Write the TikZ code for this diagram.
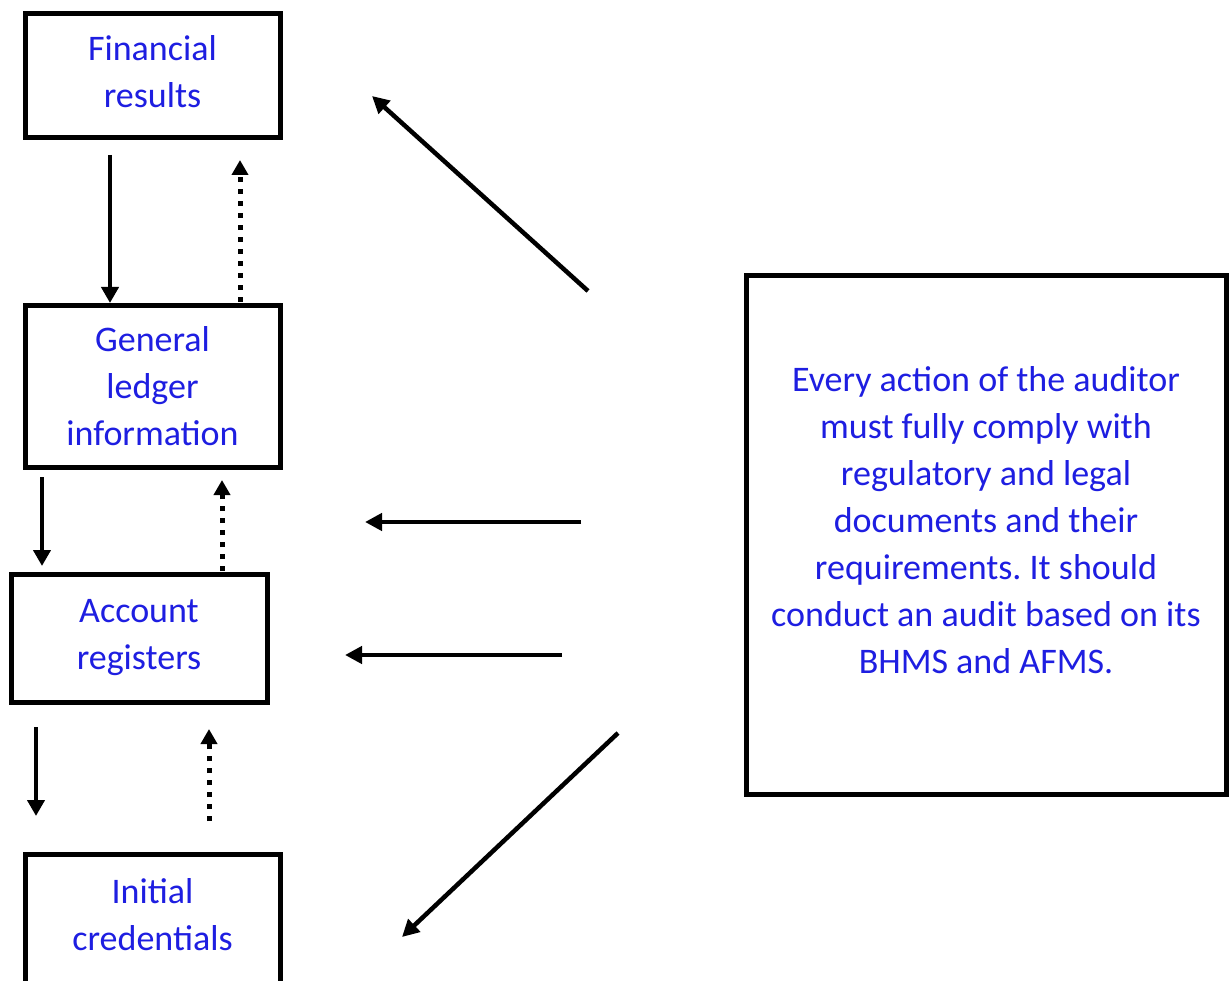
\documentclass[tikz,border=0pt]{standalone}
\usepackage{fontspec}
\setmainfont{Carlito}
\usepackage{tikz}
\usetikzlibrary{arrows.meta,positioning,calc}

\definecolor{labelblue}{RGB}{30,30,225}
\frenchspacing

\begin{document}
\begin{tikzpicture}[
  x=1pt, y=-1pt,
  every node/.style={font=\fontsize{36}{47}\selectfont, text=labelblue},
  levelbox/.style={rectangle, draw=black, line width=5pt, fill=white,
    minimum width=255pt, align=center, inner sep=0pt},
  rulebox/.style={rectangle, draw=black, line width=5pt,
    minimum width=480pt, minimum height=518pt},
  downarrow/.style={line width=4.5pt, -{Triangle[length=16pt,width=17pt]}},
  uparrow/.style={line width=5pt, dash pattern=on 5pt off 7pt,
    -{Triangle[length=15pt,width=16pt]}},
  influence/.style={line width=4.5pt, -{Triangle[length=17pt,width=17pt]}}
]
\useasboundingbox (0,0) rectangle (1229,981);
\clip (0,0) rectangle (1229,981);
\fill[white] (0,0) rectangle (1229,981);

% levels of the accounting chain
\node[levelbox, minimum height=124pt, text depth=8pt] (fin) at (152.5,76) {Financial\\results};
\node[levelbox, minimum height=161pt] (gen) at (152.5,386.5) {General\\ledger\\information};
\node[levelbox, minimum width=256pt, minimum height=128pt] (acc) at (139,638) {Account\\registers};
\node[levelbox, minimum height=132pt, text depth=12pt] (ini) at (152.5,920) {Initial\\credentials};

% auditor rule
\node[rulebox] (rule) at (986,535) {};
\node[align=center] (ruletext) at (986,520) {Every action of the auditor\\must fully comply with\\regulatory and legal\\documents and their\\requirements. It should\\conduct an audit based on its\\BHMS and AFMS.};

% free ends of the connectors
\coordinate (d1) at (110,155);  \coordinate (d1e) at (110,303);
\coordinate (u1) at (240,302);  \coordinate (u1e) at (240,160);
\coordinate (d2) at (42,477);   \coordinate (d2e) at (42,566);
\coordinate (u2) at (222,571);  \coordinate (u2e) at (222,480);
\coordinate (d3) at (36,727);   \coordinate (d3e) at (36,816);
\coordinate (u3) at (209,821);  \coordinate (u3e) at (209,729);
\coordinate (r1) at (588,291);  \coordinate (r1e) at (372,96);
\coordinate (r2) at (581,522);  \coordinate (r2e) at (365,522);
\coordinate (r3) at (562,655);  \coordinate (r3e) at (345,655);
\coordinate (r4) at (618,733);  \coordinate (r4e) at (402,937);

\draw[downarrow] (d1) -- (d1e);
\draw[uparrow] (u1) -- (u1e);
\draw[downarrow] (d2) -- (d2e);
\draw[uparrow] (u2) -- (u2e);
\draw[downarrow] (d3) -- (d3e);
\draw[uparrow] (u3) -- (u3e);

\draw[influence] (r1) -- (r1e);
\draw[influence] (r2) -- (r2e);
\draw[influence] (r3) -- (r3e);
\draw[influence] (r4) -- (r4e);
\end{tikzpicture}
\end{document}
